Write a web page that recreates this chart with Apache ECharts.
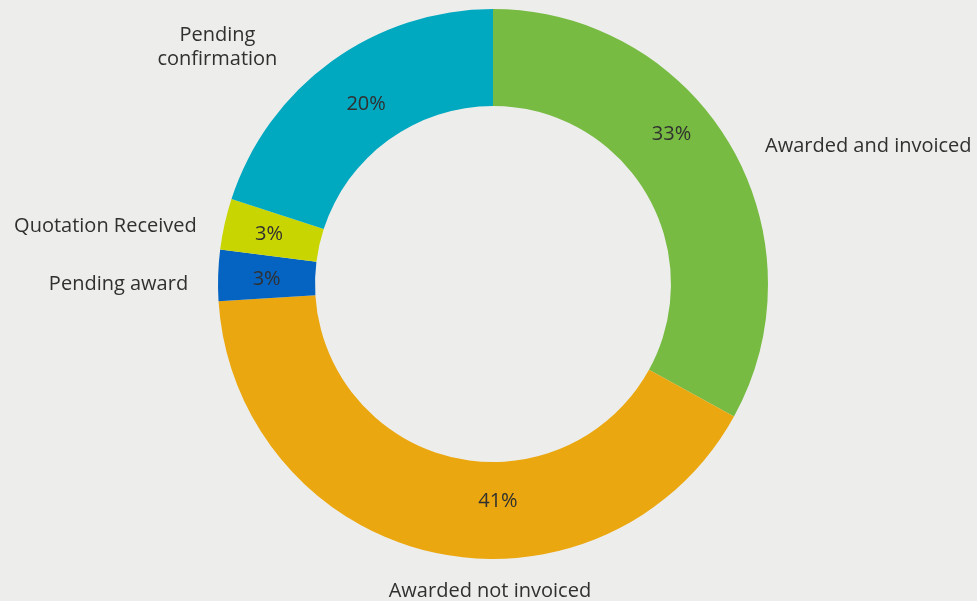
<!DOCTYPE html>
<html>
<head>
<meta charset="utf-8">
<title>Quotation status</title>
<script src="https://cdn.jsdelivr.net/npm/echarts@6/dist/echarts.min.js"></script>
<style>
  html, body { margin: 0; padding: 0; background: #EDEEEB; }
  #chart { width: 977px; height: 601px; }
</style>
</head>
<body>
<div id="chart"></div>
<script>
// Share of quotations by status, clockwise from 12 o'clock
const categories = [
  'Awarded and invoiced',
  'Awarded not invoiced',
  'Pending award',
  'Quotation Received',
  'Pending\nconfirmation'
];
const shares = [33, 41, 3, 3, 20];
const colors = ['#77BB43', '#EBA70F', '#0563C1', '#C9D500', '#00A8C0'];

const TEXT = '#303030';
const FONT = '"Open Sans", "Noto Sans", sans-serif';

// nudges for the percentage labels and the name labels (pixels)
const pctShift = [[-19, -33], [55, -7], [3, 3], [0, 0], [8, 6]];
const nameShift = [[6, 5], [83, 34], [0, 9], [2, 3], [-86, -10]];

const data = categories.map((name, i) => ({
  name: name,
  value: shares[i],
  itemStyle: { color: colors[i] }
}));

const ring = {
  type: 'pie',
  center: [493, 284],
  radius: [178, 275],
  startAngle: 90,
  clockwise: true,
  avoidLabelOverlap: false,
  silent: true,
  animation: false,
  itemStyle: { borderWidth: 0 }
};

const chart = echarts.init(document.getElementById('chart'), null, { renderer: 'canvas' });

chart.setOption({
  backgroundColor: '#EDEEEB',
  series: [
    // coloured ring with the percentage inside each slice
    Object.assign({}, ring, {
      data: data,
      label: {
        show: true,
        position: 'inside',
        formatter: p => Math.round(p.percent) + '%',
        color: TEXT,
        fontFamily: FONT,
        fontSize: 20
      },
      labelLine: { show: false },
      labelLayout: p => ({ dx: pctShift[p.dataIndex][0], dy: pctShift[p.dataIndex][1] })
    }),
    // same ring drawn transparent, carrying the category names outside
    Object.assign({}, ring, {
      data: data.map(d => ({ name: d.name, value: d.value, itemStyle: { color: 'rgba(0,0,0,0)' } })),
      label: {
        show: true,
        position: 'outside',
        formatter: '{b}',
        color: TEXT,
        fontFamily: FONT,
        fontSize: 20,
        lineHeight: 24,
        distanceToLabelLine: 5
      },
      labelLine: { show: false, length: 5, length2: 20 },
      labelLayout: p => {
        const i = p.dataIndex;
        const out = { dx: nameShift[i][0], dy: nameShift[i][1] };
        if (i === 1 || i === 4) out.align = 'center';
        return out;
      }
    })
  ]
});
</script>
</body>
</html>
